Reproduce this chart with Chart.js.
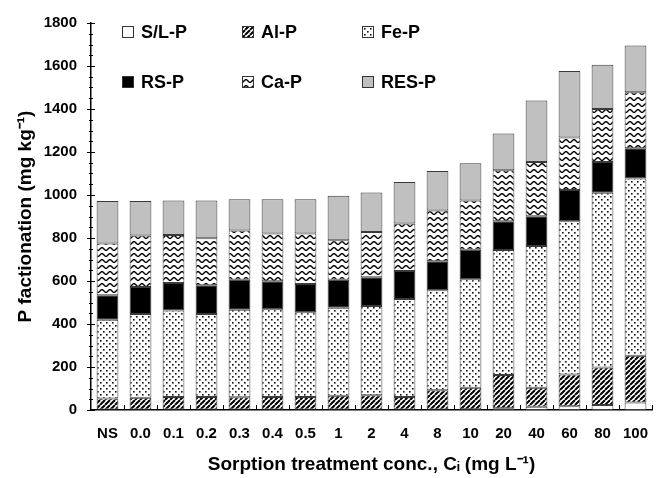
<!DOCTYPE html>
<html>
<head>
<meta charset="utf-8">
<script src="https://cdn.jsdelivr.net/npm/chart.js@4.4.0/dist/chart.umd.min.js"></script>
<style>
html, body { margin: 0; padding: 0; background: #fff; }
</style>
</head>
<body>
<canvas id="pChart" width="664" height="478"></canvas>
<script>
var categories = ['NS', '0.0', '0.1', '0.2', '0.3', '0.4', '0.5', '1', '2', '4', '8', '10', '20', '40', '60', '80', '100'];
var slP  = [2, 2, 2, 2, 2, 2, 2, 2, 2, 2, 2, 3, 8, 15, 18, 23, 35];
var alP  = [51, 55, 59, 59, 57, 59, 59, 64, 67, 59, 90, 101, 155, 89, 147, 175, 217];
var feP  = [367, 389, 402, 386, 407, 408, 394, 410, 415, 455, 465, 504, 581, 659, 713, 813, 825];
var rsP  = [114, 126, 128, 133, 140, 130, 131, 130, 134, 130, 135, 137, 134, 138, 145, 142, 140];
var caP  = [240, 240, 223, 219, 229, 222, 235, 183, 210, 221, 236, 229, 237, 252, 244, 247, 261];
var resP = [198, 160, 161, 176, 145, 159, 159, 207, 184, 194, 184, 174, 171, 287, 310, 206, 217];
var yMax = 1800;
var yStep = 200;
var yMinorStep = 50;

var FONT = '"Liberation Sans", Arial, Helvetica, sans-serif';

function makePattern(w, h, draw) {
    var c = document.createElement('canvas');
    c.width = w;
    c.height = h;
    var g = c.getContext('2d');
    g.fillStyle = '#fff';
    g.fillRect(0, 0, w, h);
    draw(g, w, h);
    return document.createElement('canvas').getContext('2d').createPattern(c, 'repeat');
}

// diagonal hatch for Al-P
var hatch = makePattern(5, 5, function (g, w, h) {
    g.strokeStyle = '#000';
    g.lineWidth = 2;
    g.beginPath();
    [-w, 0, w].forEach(function (k) {
        g.moveTo(k, h);
        g.lineTo(k + h, 0);
    });
    g.stroke();
});
// sparse dots for Fe-P
var dots = makePattern(6, 6, function (g) {
    g.fillStyle = '#111';
    g.fillRect(1, 1, 1.6, 1.6);
    g.fillRect(4, 4, 1.6, 1.6);
});
// wavy lines for Ca-P
var waves = makePattern(8, 6, function (g, w, h) {
    g.strokeStyle = '#000';
    g.lineWidth = 1.4;
    g.beginPath();
    for (var x = -1; x <= w + 1; x += 0.5) {
        var y = h / 2 + 1.4 * Math.sin(2 * Math.PI * x / w);
        if (x === -1) g.moveTo(x, y); else g.lineTo(x, y);
    }
    g.stroke();
});

var legendPlugin = {
    id: 'gridLegend',
    afterDraw: function (chart) {
        var ctx = chart.ctx;
        var cols = [122, 242, 362];
        var rows = [32, 82];
        ctx.save();
        chart.data.datasets.forEach(function (ds, i) {
            var x = cols[i % 3], y = rows[Math.floor(i / 3)];
            ctx.fillStyle = ds.backgroundColor;
            ctx.fillRect(x, y - 6, 12, 12);
            ctx.strokeStyle = '#333';
            ctx.lineWidth = 1;
            ctx.strokeRect(x + 0.5, y - 5.5, 11, 11);
            ctx.fillStyle = '#000';
            ctx.font = 'bold 18px ' + FONT;
            ctx.textBaseline = 'middle';
            ctx.textAlign = 'left';
            ctx.fillText(ds.label, x + 19, y + 1);
        });
        ctx.restore();
    }
};

var tickPlugin = {
    id: 'axisTicks',
    afterDraw: function (chart) {
        var ctx = chart.ctx, ys = chart.scales.y, xs = chart.scales.x;
        var left = chart.chartArea.left, bottom = chart.chartArea.bottom;
        ctx.save();
        ctx.strokeStyle = '#000';
        ctx.lineWidth = 1;
        ctx.beginPath();
        for (var v = 0; v <= yMax; v += yMinorStep) {
            var py = Math.round(ys.getPixelForValue(v)) + 0.5;
            var len = v % yStep === 0 ? 4 : 2;
            ctx.moveTo(left - len, py);
            ctx.lineTo(left + len, py);
        }
        var w = (xs.right - xs.left) / categories.length;
        for (var i = 1; i <= categories.length; i++) {
            var px = Math.round(xs.left + i * w) + 0.5;
            ctx.moveTo(px, bottom);
            ctx.lineTo(px, bottom - 5);
        }
        ctx.stroke();
        ctx.restore();
    }
};

var stockChart = document.getElementById('pChart');
var pChart = new Chart(stockChart, {
    type: 'bar',
    data: {
        labels: categories,
        datasets: [
            { label: 'S/L-P', data: slP, backgroundColor: '#ffffff' },
            { label: 'Al-P', data: alP, backgroundColor: hatch },
            { label: 'Fe-P', data: feP, backgroundColor: dots },
            { label: 'RS-P', data: rsP, backgroundColor: '#000000' },
            { label: 'Ca-P', data: caP, backgroundColor: waves },
            { label: 'RES-P', data: resP, backgroundColor: '#c0c0c0' }
        ]
    },
    options: {
        responsive: false,
        animation: false,
        layout: { padding: { top: 17, right: 12, left: 0, bottom: 0 } },
        datasets: {
            bar: {
                barPercentage: 0.66,
                categoryPercentage: 1,
                borderColor: '#3a3a3a',
                borderWidth: 1,
                borderSkipped: false
            }
        },
        plugins: {
            legend: { display: false },
            tooltip: { enabled: false }
        },
        scales: {
            x: {
                stacked: true,
                grid: { display: false, drawTicks: false },
                border: { color: '#000', width: 1.5 },
                ticks: {
                    color: '#000',
                    padding: 15,
                    maxRotation: 0,
                    autoSkip: false,
                    font: { family: FONT, size: 15, weight: 'bold' }
                },
                title: {
                    display: true,
                    text: 'Sorption treatment conc., C\u1D62 (mg L\u207B\u00B9)',
                    color: '#000',
                    padding: { top: 0, bottom: 2 },
                    font: { family: FONT, size: 19, weight: 'bold' }
                },
                afterFit: function (s) { s.height = 68; }
            },
            y: {
                stacked: true,
                min: 0,
                max: yMax,
                grid: { display: false, drawTicks: false },
                border: { color: '#000', width: 1.5 },
                ticks: {
                    stepSize: yStep,
                    color: '#000',
                    padding: 14,
                    font: { family: FONT, size: 15, weight: 'bold' },
                    callback: function (v) { return String(v); }
                },
                title: {
                    display: true,
                    text: 'P factionation (mg kg\u207B\u00B9)',
                    color: '#000',
                    padding: { top: 14, bottom: 0 },
                    font: { family: FONT, size: 19, weight: 'bold' }
                },
                afterFit: function (s) { s.width = 91; }
            }
        }
    },
    plugins: [legendPlugin, tickPlugin]
});
</script>
</body>
</html>
